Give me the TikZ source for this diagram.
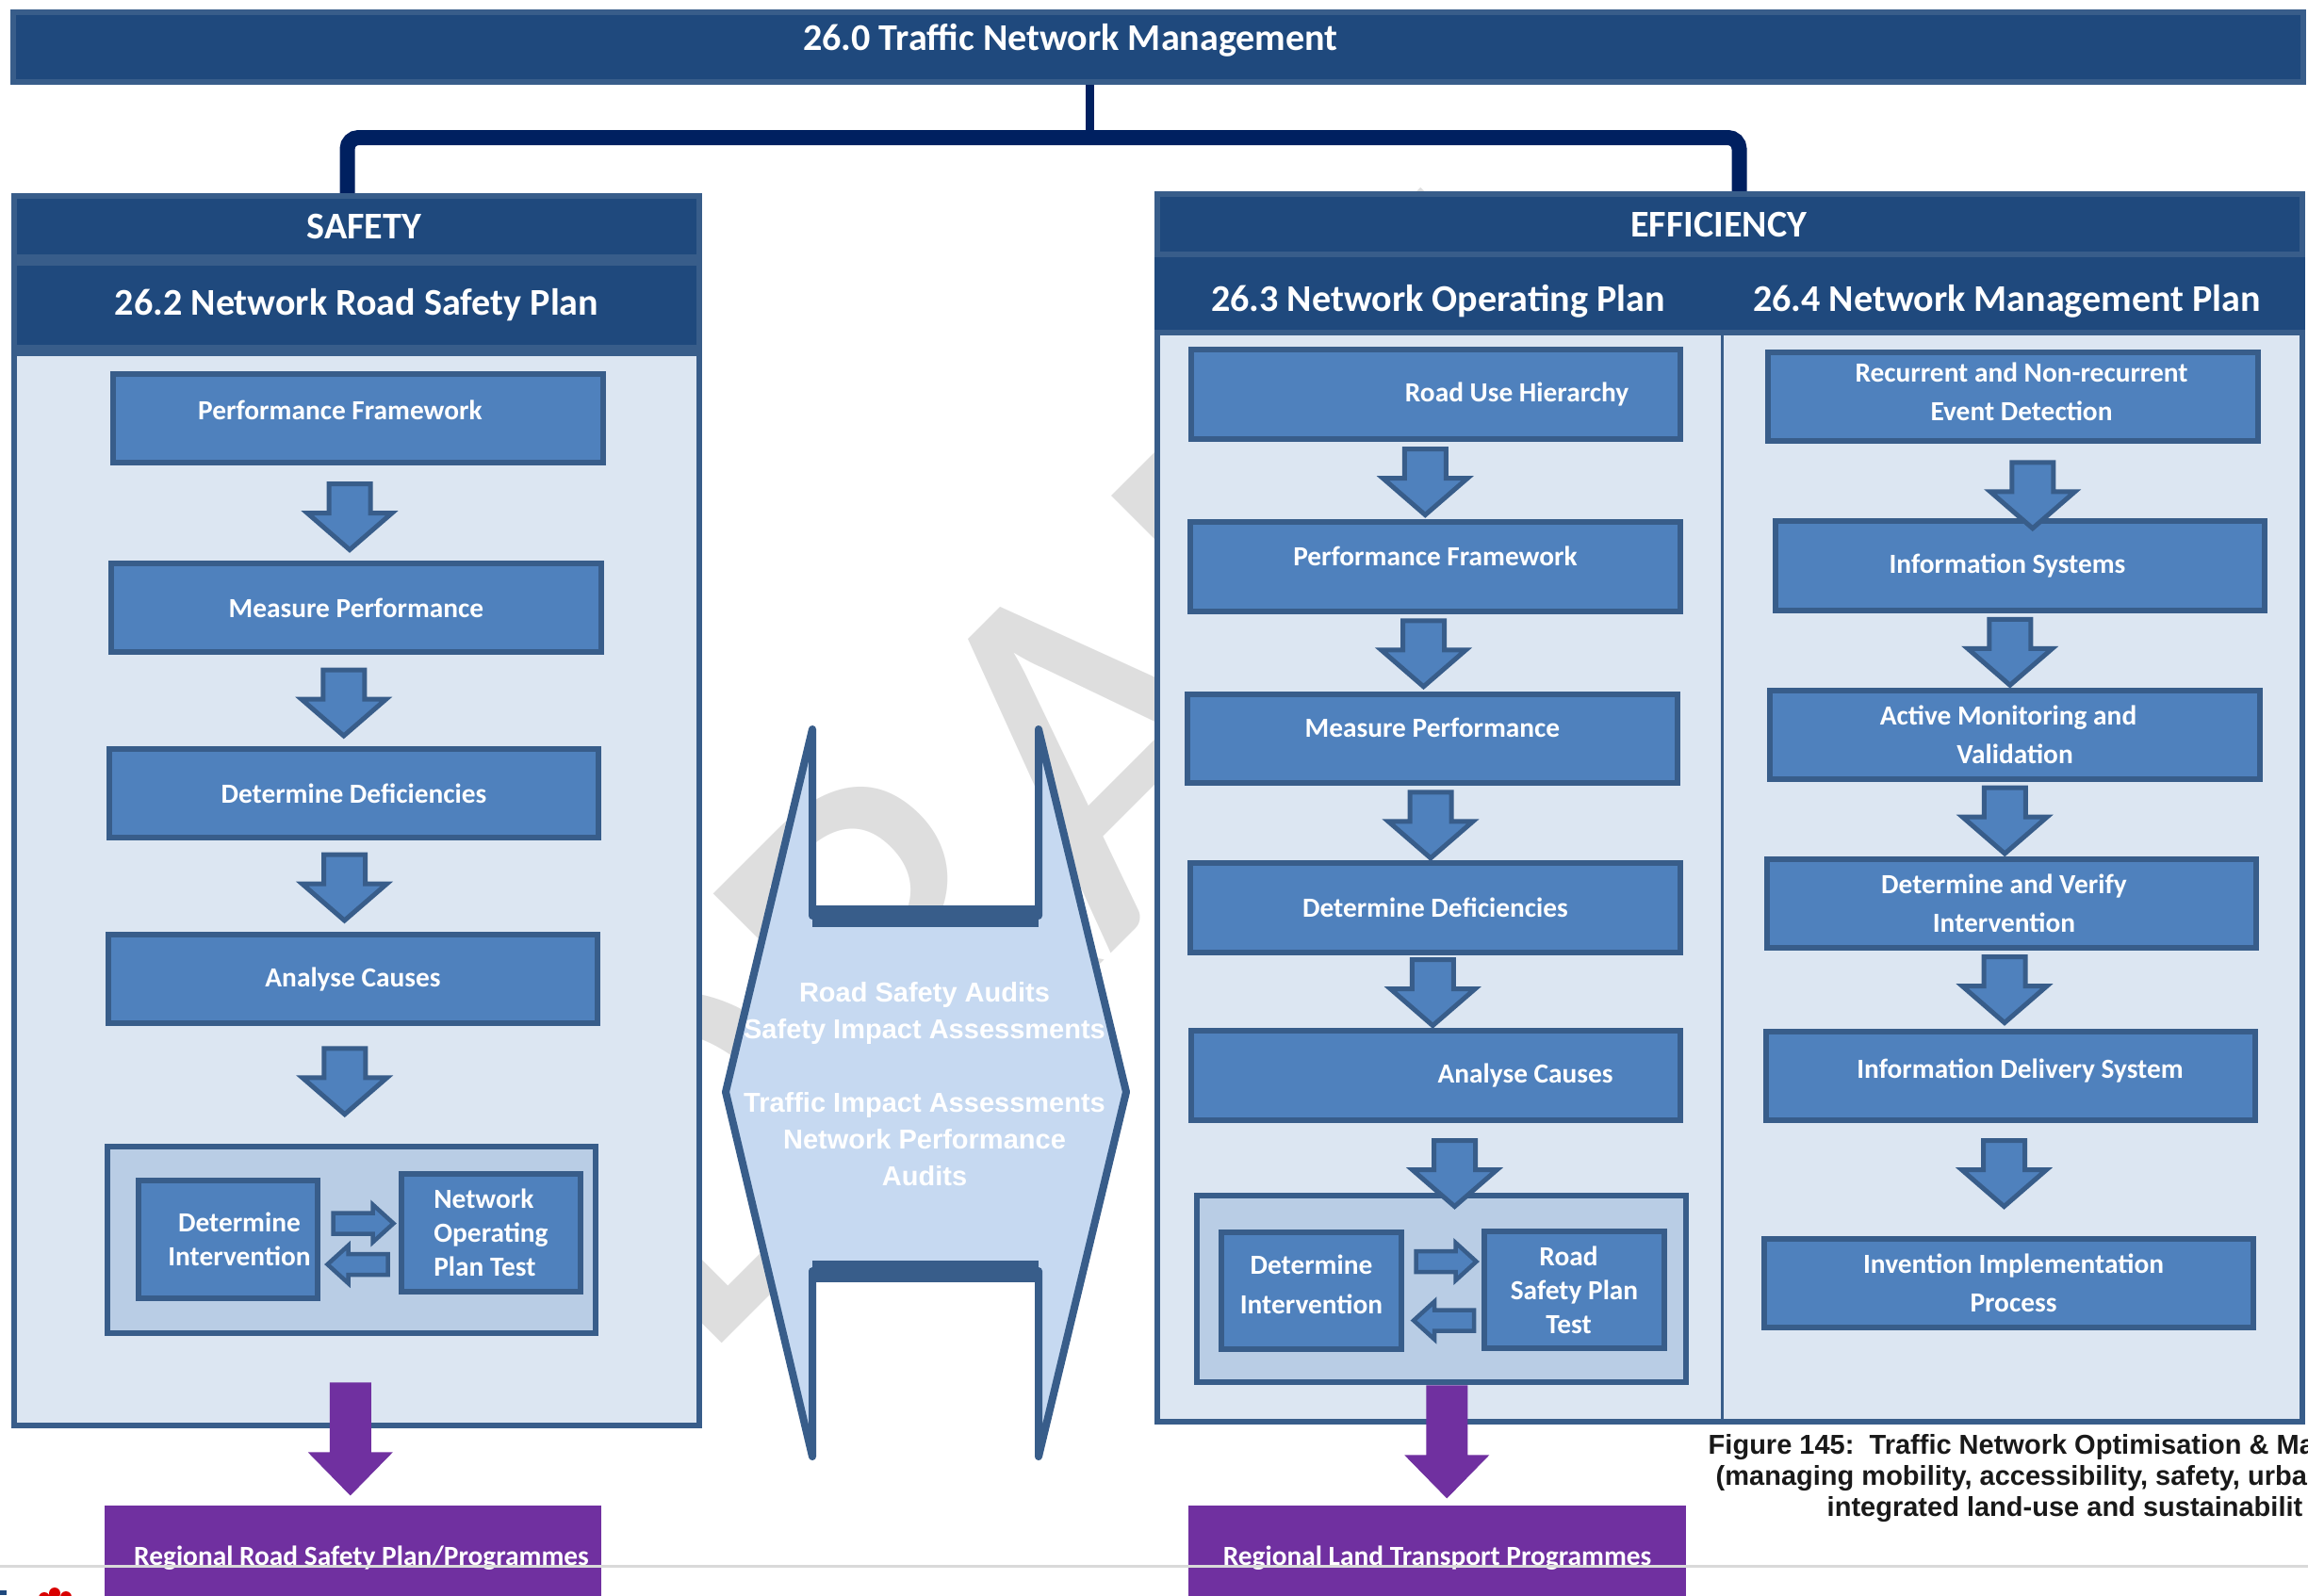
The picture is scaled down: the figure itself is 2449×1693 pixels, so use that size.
\documentclass[tikz,border=0pt]{standalone}
\usepackage{fontspec}
\setmainfont{Carlito}
\newfontfamily\arialfont{Liberation Sans}
\usetikzlibrary{calc}

\definecolor{hdblue}{HTML}{1F497D}
\definecolor{edgeblue}{HTML}{385D8A}
\definecolor{boxblue}{HTML}{4F81BD}
\definecolor{paleblue}{HTML}{DCE6F2}
\definecolor{midblue}{HTML}{B9CDE5}
\definecolor{skyblue}{HTML}{C6D9F1}
\definecolor{navy}{HTML}{002060}
\definecolor{plum}{HTML}{7030A0}

\tikzset{
  header/.style={fill=hdblue, draw=edgeblue, line width=0.06cm, inner sep=0pt, text=white,
    font=\bfseries\fontsize{11.4}{13}\selectfont},
  subheader/.style={header, draw=none, minimum height=0.77cm, text height=0.44cm},
  panel/.style={fill=paleblue, draw=edgeblue, line width=0.06cm},
  stepbox/.style={fill=boxblue, draw=edgeblue, line width=0.06cm, inner sep=0pt, text=white,
    align=center, minimum width=5.19cm, minimum height=0.94cm,
    font=\bfseries\fontsize{8.35}{11.7}\selectfont},
  holder/.style={fill=midblue, draw=edgeblue, line width=0.06cm, minimum width=5.18cm, minimum height=1.97cm},
  smallbox/.style={stepbox, minimum width=1.9cm, minimum height=1.24cm,
    font=\bfseries\fontsize{8.35}{10.3}\selectfont},
  outbox/.style={fill=plum, inner sep=0pt, text=white, minimum width=5.27cm, minimum height=1.12cm,
    font=\bfseries\fontsize{8.35}{10}\selectfont},
  link/.style={draw=navy, line width=0.16cm, rounded corners=0.12cm},
  caption/.style={anchor=base west, inner sep=0pt, text=black!90,
    font=\arialfont\bfseries\fontsize{8.25}{10}\selectfont},
  pics/flowdown/.style={code={
    \filldraw[fill=boxblue, draw=edgeblue, line width=0.05cm]
      (-22,-35) -- (22,-35) -- (22,-4) -- (45,-4) -- (0,35) -- (-45,-4) -- (-22,-4) -- cycle;}},
  pics/flowright/.style={code={
    \filldraw[fill=boxblue, draw=edgeblue, line width=0.045cm]
      (-32,-11) -- (10,-11) -- (10,-20) -- (32,0) -- (10,20) -- (10,11) -- (-32,11) -- cycle;}},
  pics/outdown/.style={code={
    \fill[plum] (-22,-60) -- (22,-60) -- (22,14) -- (45,14) -- (0,60) -- (-45,14) -- (-22,14) -- cycle;}}
}

\begin{document}
\begin{tikzpicture}[x=0.01cm, y=-0.01cm]
\useasboundingbox (0,0) rectangle (2449,1693);

\node[text=black!13, inner sep=0pt, rotate=45, font=\fontsize{152}{152}\selectfont] (draft) at (1126,823) {DRAFT};

\node[header, minimum width=24.28cm, minimum height=0.74cm, text depth=0.22cm] (top) at (1229,50)
  {26.0 Traffic Network Management\hspace*{1.86cm}};

\draw[panel] (15,375) rectangle (742,1513);
\node[header, minimum width=7.27cm, minimum height=0.65cm] (safety) at (378.5,240.5) {\hspace*{0.16cm}SAFETY};
\node[header, minimum width=7.27cm, minimum height=0.90cm] (nrsp) at (378.5,324) {26.2 Network Road Safety Plan};

\node[subheader, minimum width=6.02cm] (nop) at (1526,311.5) {26.3 Network Operating Plan};
\node[subheader, minimum width=6.19cm] (nmp) at (2136.5,311.5) {26.4 Network Management Plan\hspace*{0.14cm}};
\draw[panel] (1228,353) rectangle (2443,1509);
\draw[edgeblue, line width=0.03cm] (1827,353) -- (1827,1509);
\node[header, minimum width=12.15cm, minimum height=0.64cm] (effic) at (1835.5,238) {EFFICIENCY\hspace*{0.24cm}};

\coordinate (hub) at (1156,146);
\draw[navy, line width=0.09cm] (top.south -| hub) -- (hub);
\draw[link] (hub) -| ([shift={(-10,0)}]safety.north);
\draw[link] (hub) -| ([shift={(10,0)}]effic.north);

\node[stepbox, text depth=0.18cm] (s1) at (380,444) {Performance Framework\hspace*{0.38cm}};
\node[stepbox] (s2) at (378,645) {Measure Performance};
\node[stepbox] (s3) at (375.5,842) {Determine Deficiencies};
\node[stepbox] (s4) at (374.5,1039) {Analyse Causes};
\node[holder] (scont) at (373,1316) {};
\node[smallbox] (sdi) at (242,1315.5) {\hspace*{0.24cm}Determine\\\hspace*{0.24cm}Intervention};
\node[smallbox, align=left] (snop) at (521,1308.5) {Network\\Operating\\Plan Test};
\node[outbox] (sreg) at (374.5,1654) {\hspace*{0.18cm}Regional Road Safety Plan/Programmes};

\pic at ($(s1.south)!.5!(s2.north)+(-8,4)$) {flowdown};
\pic at ($(s2.south)!.5!(s3.north)+(-12,2.5)$) {flowdown};
\pic at ($(s3.south)!.5!(s4.north)+(-9.5,1.5)$) {flowdown};
\pic at ($(s4.south)!.5!(scont.north)+(-8,-4)$) {flowdown};
\pic at ($(sdi.east)!.5!(snop.west)+(4,-13.5)$) {flowright};
\pic[xscale=-1] at ($(sdi.east)!.5!(snop.west)+(-2,30)$) {flowright};
\pic at ($(scont.south)!.5!(sreg.north)+(-2,20)$) {outdown};

\node[stepbox] (o1) at (1523.5,418.5) {\hspace*{1.72cm}Road Use Hierarchy};
\node[stepbox, text depth=0.22cm] (o2) at (1523,601.5) {Performance Framework};
\node[stepbox, text depth=0.24cm] (o3) at (1520,784) {Measure Performance};
\node[stepbox] (o4) at (1523,963.5) {Determine Deficiencies};
\node[stepbox] (o5) at (1523.5,1141.5) {\hspace*{1.9cm}Analyse Causes};
\node[holder] (ocont) at (1529.5,1368) {};
\node[smallbox, text depth=0.14cm, font=\bfseries\fontsize{8.35}{12}\selectfont] (odi) at (1391.5,1370) {Determine\\Intervention};
\node[smallbox] (orsp) at (1670.5,1369) {Road\hspace*{0.12cm}\\Safety Plan\hspace*{0.12cm}\\Test\hspace*{0.12cm}};
\node[outbox] (oreg) at (1525,1654) {Regional Land Transport Programmes};

\pic at ($(o1.south)!.5!(o2.north)+(-11,1.5)$) {flowdown};
\pic at ($(o2.south)!.5!(o3.north)+(-11,1)$) {flowdown};
\pic at ($(o3.south)!.5!(o4.north)+(-3.5,2)$) {flowdown};
\pic at ($(o4.south)!.5!(o5.north)+(-3,1)$) {flowdown};
\pic at ($(o5.south)!.5!(ocont.north)+(17,16.5)$) {flowdown};
\pic at ($(odi.east)!.5!(orsp.west)+(3.5,-30.5)$) {flowright};
\pic[xscale=-1] at ($(odi.east)!.5!(orsp.west)+(1,32)$) {flowright};
\pic at ($(ocont.south)!.5!(oreg.north)+(8,-3)$) {outdown};

\node[stepbox, text depth=0.1cm] (m1) at (2136,421) {\hspace*{0.18cm}Recurrent and Non-recurrent\\\hspace*{0.18cm}Event Detection};
\node[stepbox] (m2) at (2143.5,600.5) {Information Systems\hspace*{0.27cm}};
\node[stepbox] (m3) at (2138,780) {Active Monitoring and\hspace*{0.14cm}\\Validation};
\node[stepbox] (m4) at (2134.5,959) {Determine and Verify\hspace*{0.16cm}\\Intervention\hspace*{0.16cm}};
\node[stepbox, text depth=0.16cm] (m5) at (2133.5,1142) {\hspace*{0.2cm}Information Delivery System};
\node[stepbox] (m6) at (2131.5,1362) {\hspace*{0.1cm}Invention Implementation\\\hspace*{0.1cm}Process};

\pic at ($(m1.south)!.5!(m2.north)+(17,15)$) {flowdown};
\pic at ($(m2.south)!.5!(m3.north)+(-8,2)$) {flowdown};
\pic at ($(m3.south)!.5!(m4.north)+(-9,1.5)$) {flowdown};
\pic at ($(m4.south)!.5!(m5.north)+(-7,0)$) {flowdown};
\pic at ($(m5.south)!.5!(m6.north)+(-6,-6.5)$) {flowdown};

\fill[skyblue] (770,1159) -- (862,774) -- (862,972) -- (1102,972) -- (1102,774) -- (1195,1159)
  -- (1102,1546) -- (1102,1349) -- (862,1349) -- (862,1546) -- cycle;
\node[text=white, align=center, inner sep=0pt, font=\arialfont\bfseries\fontsize{8.25}{11.1}\selectfont]
  (audits) at (981,1151) {Road Safety Audits\\Safety Impact Assessments\\[11.1pt]Traffic Impact Assessments\\Network Performance\\Audits};
\draw[edgeblue, line width=0.08cm, line join=round] (770,1159) -- (862,774) -- (862,972) -- (1102,972) -- (1102,774)
  -- (1195,1159) -- (1102,1546) -- (1102,1349) -- (862,1349) -- (862,1546) -- cycle;
\draw[edgeblue, line width=0.23cm] (862,972) -- (1102,972);
\draw[edgeblue, line width=0.23cm] (862,1349) -- (1102,1349);

\node[caption] (cap1) at (1812,1543) {Figure 145:\ \ Traffic Network Optimisation \& Ma};
\node[caption] (cap2) at (1820,1576) {(managing mobility, accessibility, safety, urba};
\node[caption] (cap3) at (1938,1609) {integrated land-use and sustainabilit};

\draw[black!15, line width=0.03cm] (0,1662) -- (2449,1662);
\fill[red!85!black] (47,1696) circle (0.06cm) (58,1691) circle (0.06cm) (70,1695) circle (0.06cm);
\fill[hdblue] (0,1688) rectangle (7,1693);
\end{tikzpicture}
\end{document}
